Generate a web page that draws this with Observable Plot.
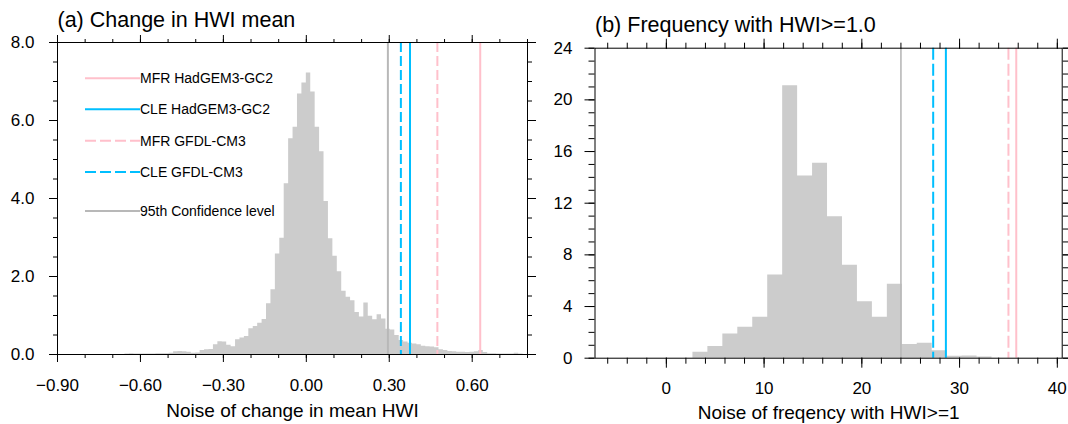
<!DOCTYPE html>
<html><head><meta charset="utf-8">
<script src="https://cdn.jsdelivr.net/npm/d3@7"></script>
<script src="https://cdn.jsdelivr.net/npm/@observablehq/plot@0.6"></script>
<style>
html,body{margin:0;padding:0;background:#fff;overflow:hidden;}
#wrap{position:relative;width:1068px;height:424px;overflow:hidden;background:#fff;}
#wrap svg{position:absolute;top:0;}
</style></head><body><div id="wrap"></div>
<script>
// ---------- Panel (a): change in HWI mean ----------
const meanBinStart = [-0.656,-0.640,-0.624,-0.608,-0.592,-0.576,-0.560,-0.544,-0.528,-0.512,
 -0.496,-0.480,-0.464,-0.448,-0.432,-0.416,-0.400,-0.384,-0.368,-0.352,
 -0.336,-0.320,-0.304,-0.288,-0.272,-0.256,-0.240,-0.224,-0.208,-0.192,
 -0.176,-0.160,-0.144,-0.128,-0.112,-0.096,-0.080,-0.064,-0.048,-0.032,
 -0.016,0.000,0.016,0.032,0.048,0.064,0.080,0.096,0.112,0.128,
 0.144,0.160,0.176,0.192,0.208,0.224,0.240,0.256,0.272,0.288,
 0.304,0.320,0.336,0.352,0.368,0.384,0.400,0.416,0.432,0.448,
 0.464,0.480,0.496,0.512,0.528,0.544,0.560,0.576,0.592,0.608,
 0.624,0.640,0.656,0.672,0.688,0.704,0.720,0.736,0.752,0.768];
const meanBinWidth = 0.016;
const meanDensity = [0.01,0.02,0.01,0.01,0.01,0.01,0.01,0.02,0.02,0.02,
 0.03,0.07,0.08,0.07,0.06,0.03,0.04,0.10,0.12,0.13,
 0.25,0.33,0.32,0.24,0.20,0.38,0.42,0.46,0.66,0.72,
 0.80,0.90,1.30,1.66,2.58,2.98,4.38,5.53,5.83,6.68,
 6.96,7.22,6.73,5.83,5.20,3.92,2.97,2.52,2.12,1.62,
 1.47,1.38,1.08,0.96,1.32,0.98,0.89,1.02,0.91,0.65,
 0.63,0.49,0.36,0.32,0.29,0.27,0.25,0.21,0.20,0.19,
 0.17,0.12,0.10,0.08,0.07,0.06,0.06,0.05,0.06,0.07,
 0.10,0.05,0.02,0.02,0.01,0.01,0.01,0.01,0.03,0.01];
const meanLineValues = [0.629, 0.375, 0.474, 0.342, 0.295];
const meanXTicks = [-0.9, -0.6, -0.3, 0.0, 0.3, 0.6];
const meanYTicks = [0, 2, 4, 6, 8];

// ---------- Panel (b): frequency with HWI>=1 ----------
const freqBinStart = [2.72,4.25,5.78,7.31,8.84,10.37,11.90,13.43,14.96,16.49,
 18.02,19.55,21.08,22.61,24.14,25.67,27.20,28.73,30.26,31.79];
const freqBinWidth = 1.53;
const freqCounts = [0.46,0.90,1.88,2.40,3.17,6.45,21.1,14.1,15.1,10.95,
 7.2,4.38,3.17,5.72,1.07,1.16,0.57,0.15,0.18,0.10];
const freqLineValues = [35.8, 28.6, 35.0, 27.3, 24.0];
const freqXTicks = [0, 10, 20, 30, 40];
const freqYTicks = [0, 4, 8, 12, 16, 20, 24];

// ---------- Series (legend) ----------
const seriesNames = ["MFR HadGEM3-GC2", "CLE HadGEM3-GC2", "MFR GFDL-CM3", "CLE GFDL-CM3", "95th Confidence level"];
const seriesColors = ["#ffc0cb", "#00bfff", "#ffc0cb", "#00bfff", "#b8b8b8"];
const seriesDashed = [false, false, true, true, false];

const FONT = '"Liberation Sans", Arial, Helvetica, sans-serif';

function panel(o) {
  const pts = o.bins.map((x, i) => ({x, h: o.heights[i]}));
  pts.push({x: o.bins[o.bins.length - 1] + o.binWidth, h: o.heights[o.heights.length - 1]});
  const ruleMarks = o.lines.map((v, i) => Plot.ruleX([v], {
    stroke: seriesColors[i], strokeWidth: i === 4 ? o.grayWidth : 2,
    strokeDasharray: seriesDashed[i] ? o.dash : null
  }));
  const tk = o.tick;
  return Plot.plot({
    width: 545, height: 424,
    marginLeft: o.m[0], marginRight: o.m[1], marginTop: o.m[2], marginBottom: o.m[3],
    x: {domain: o.xDomain}, y: {domain: o.yDomain},
    style: {fontFamily: FONT, fontSize: o.tickFont + "px", color: "black", background: "transparent", overflow: "visible"},
    marks: [
      Plot.areaY(pts, {x: "x", y: "h", curve: "step-after", fill: "#cccccc"}),
      ...ruleMarks.reverse(),
      Plot.axisX(o.xMinor, {anchor: "bottom", tickSize: tk[1], tickFormat: () => "", label: null}),
      Plot.axisX(o.xMinor, {anchor: "top", tickSize: tk[1], tickFormat: () => "", label: null}),
      Plot.axisX(o.xMajor, {anchor: "top", tickSize: tk[0], tickFormat: () => "", label: null}),
      Plot.axisX(o.xMajor, {anchor: "bottom", tickSize: tk[0], tickPadding: o.xPad, tickFormat: o.xFmt, label: null}),
      Plot.axisY(o.yMinor, {anchor: "left", tickSize: tk[1], tickFormat: () => "", label: null}),
      Plot.axisY(o.yMinor, {anchor: "right", tickSize: tk[1], tickFormat: () => "", label: null}),
      Plot.axisY(o.yMajor, {anchor: "right", tickSize: tk[0], tickFormat: () => "", label: null}),
      Plot.axisY(o.yMajor, {anchor: "left", tickSize: tk[0], tickPadding: o.yPad, tickFormat: o.yFmt, label: null}),
      Plot.frame({stroke: "black", strokeWidth: 1}),
      Plot.text([o.title], {text: d => d, frameAnchor: "top-left", textAnchor: "start", lineAnchor: "bottom", dy: o.titleDy, fontSize: 21.5}),
      Plot.text([o.xLabel], {text: d => d, frameAnchor: "bottom", textAnchor: "middle", lineAnchor: "bottom", dy: o.xLabelDy, fontSize: 19})
    ]
  });
}

const wrap = document.getElementById("wrap");

const a = panel({
  bins: meanBinStart, binWidth: meanBinWidth, heights: meanDensity, lines: meanLineValues,
  xDomain: [-0.9, 0.8], yDomain: [0, 8],
  xMajor: meanXTicks, xMinor: d3.range(-0.9, 0.801, 0.1), yMajor: meanYTicks, yMinor: d3.range(0, 8.01, 0.5),
  xFmt: d3.format(".2f"), yFmt: d3.format(".1f"),
  m: [57, 18, 42, 70], tick: [8, 4], xPad: 16, yPad: 15, tickFont: 17,
  title: "(a) Change in HWI mean", titleDy: -16,
  xLabel: "Noise of change in mean HWI", xLabelDy: 62.5,
  dash: "10,4", grayWidth: 2
});
a.style.left = "0px";
wrap.appendChild(a);

const b = panel({
  bins: freqBinStart, binWidth: freqBinWidth, heights: freqCounts, lines: freqLineValues,
  xDomain: [-7.3, 40.5], yDomain: [0, 24],
  xMajor: freqXTicks, xMinor: d3.range(-6, 40.1, 2), yMajor: freqYTicks, yMinor: d3.range(0, 24.1, 1),
  xFmt: d3.format("d"), yFmt: d3.format("d"),
  m: [64.5, 13.3, 47.7, 66.3], tick: [10, 6], xPad: 14, yPad: 12.5, tickFont: 17,
  title: "(b) Frequency with HWI>=1.0", titleDy: -16,
  xLabel: "Noise of freqency with HWI>=1", xLabelDy: 60.6,
  dash: "12,4", grayWidth: 1.6
});
b.style.left = "530px";
wrap.appendChild(b);

// ---------- Legend inside panel (a) ----------
const legY = [78.3, 109.3, 140.7, 172, 211];
const leg = d3.select(wrap).append("svg")
  .attr("width", 545).attr("height", 424).style("left", "0px")
  .attr("font-family", FONT).attr("font-size", 14);
seriesNames.forEach((name, i) => {
  leg.append("line").attr("x1", 85).attr("x2", 140).attr("y1", legY[i]).attr("y2", legY[i])
    .attr("stroke", seriesColors[i]).attr("stroke-width", 2)
    .attr("stroke-dasharray", seriesDashed[i] ? "11,4" : null);
  leg.append("text").attr("x", 140).attr("y", legY[i]).attr("dy", "0.36em").attr("fill", "black").text(name);
});
</script>
</body></html>
